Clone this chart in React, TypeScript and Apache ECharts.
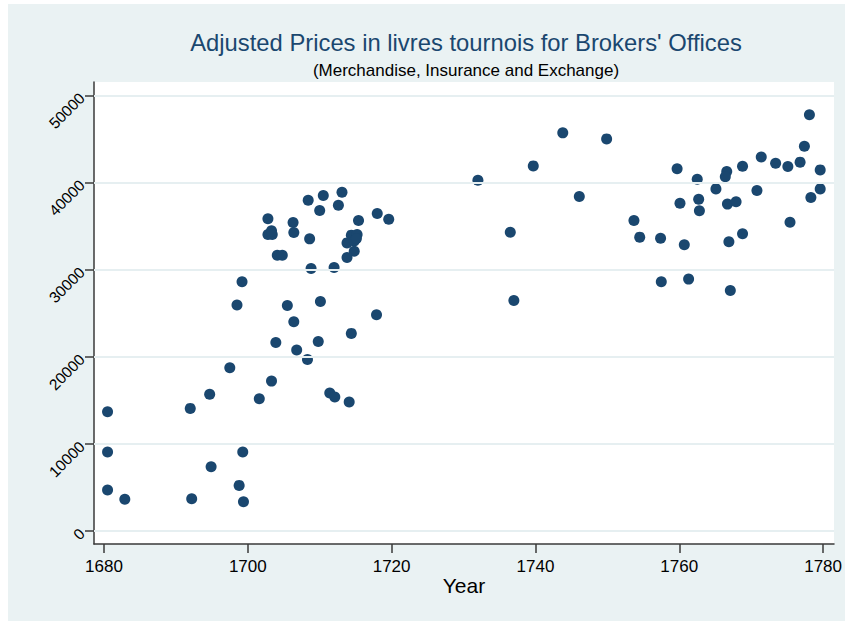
import React, { useEffect, useRef } from "react";
import * as echarts from "echarts";

const titleText = "Adjusted Prices in livres tournois for Brokers' Offices";
const subtitleText = "(Merchandise, Insurance and Exchange)";
const xAxisName = "Year";

const xTicks = [1680, 1700, 1720, 1740, 1760, 1780];
const yTicks = [0, 10000, 20000, 30000, 40000, 50000];

const years = [
  1680.5, 1680.5, 1680.5, 1682.9, 1692.0, 1692.2, 1694.7, 1694.9, 1697.5, 1698.5,
  1698.8, 1699.3, 1699.4, 1699.2, 1701.6, 1703.3, 1703.9, 1702.8, 1702.8, 1703.4,
  1703.3, 1704.1, 1704.8, 1706.3, 1706.4, 1708.4, 1710.5, 1713.1, 1710.0, 1712.6,
  1708.6, 1715.4, 1718.0, 1719.6, 1714.4, 1715.2, 1713.8, 1714.8, 1715.1, 1714.8,
  1713.8, 1708.8, 1712.0, 1705.5, 1710.1, 1706.4, 1717.9, 1714.4, 1706.8, 1709.8,
  1708.3, 1711.4, 1712.1, 1714.1,
  1732.0, 1739.7, 1743.8, 1749.9, 1746.1, 1736.5, 1737.0, 1753.7, 1754.5,
  1757.4, 1759.7, 1760.1, 1760.7, 1757.5, 1761.3, 1767.1, 1762.5, 1762.7, 1762.8,
  1765.1, 1766.6, 1766.4, 1766.7, 1767.9, 1766.9, 1768.8, 1768.8, 1770.8, 1771.4,
  1773.4, 1775.1, 1775.4, 1776.8, 1777.4, 1778.1, 1778.3, 1779.6, 1779.6,
];

const prices = [
  13700, 9070, 4700, 3640, 14080, 3710, 15690, 7380, 18740, 25940,
  5240, 9070, 3370, 28610, 15180, 17210, 21650, 35840, 34050, 34050,
  34460, 31670, 31670, 35430, 34280, 37980, 38520, 38900, 36800, 37410,
  33540, 35650, 36460, 35800, 33970, 34050, 33080, 33310, 33590, 32130,
  31410, 30150, 30260, 25900, 26360, 24020, 24820, 22690, 20770, 21770,
  19700, 15840, 15380, 14800,
  40280, 41920, 45710, 45020, 38410, 34310, 26470, 35650, 33740,
  33620, 41580, 37640, 32860, 28610, 28920, 27620, 40390, 38100, 36760,
  39280, 41280, 40660, 37530, 37790, 33200, 41890, 34120, 39100, 42950,
  42230, 41850, 35460, 42350, 44180, 47780, 38290, 41460, 39280,
];

const FONT = "'Liberation Sans', Arial, Helvetica, sans-serif";

export default function App() {
  const ref = useRef<HTMLDivElement>(null);

  useEffect(() => {
    if (!ref.current) return;
    const chart = echarts.init(ref.current, null, { renderer: "svg" });
    const axisLineStyle = { color: "#3a3a3a", width: 1.5 };
    chart.setOption({
      animation: false,
      backgroundColor: "#eaf2f3",
      textStyle: { fontFamily: FONT },
      title: [
        {
          text: titleText,
          left: 453,
          top: 21,
          textAlign: "center",
          textStyle: { fontSize: 23.8, fontWeight: "normal", color: "#1a476f", fontFamily: FONT },
        },
        {
          text: subtitleText,
          left: 453,
          top: 53,
          textAlign: "center",
          textStyle: { fontSize: 17, fontWeight: "normal", color: "#000", fontFamily: FONT },
        },
      ],
      grid: {
        show: true,
        left: 86,
        top: 78,
        width: 743,
        height: 462,
        backgroundColor: "#ffffff",
        borderWidth: 0,
      },
      xAxis: {
        type: "value",
        min: 1678.615,
        max: 1781.52,
        axisLine: { show: true, onZero: false, lineStyle: axisLineStyle },
        axisTick: { show: true, length: 9, customValues: xTicks, lineStyle: axisLineStyle },
        axisLabel: {
          customValues: xTicks,
          fontSize: 17,
          color: "#000",
          margin: 14,
          fontFamily: FONT,
          formatter: (v: number) => String(Math.round(v)),
        },
        splitLine: { show: false },
        name: xAxisName,
        nameLocation: "middle",
        nameGap: 31,
        nameMoveOverlap: false,
        nameTextStyle: { fontSize: 21, color: "#000", fontFamily: FONT },
      },
      yAxis: {
        type: "value",
        min: -1490,
        max: 51550,
        axisLine: { show: true, onZero: false, lineStyle: axisLineStyle },
        axisTick: { show: true, length: 9, customValues: yTicks, lineStyle: axisLineStyle },
        axisLabel: {
          customValues: yTicks,
          rotate: 45,
          fontSize: 15.5,
          color: "#000",
          margin: 12,
          fontFamily: FONT,
          formatter: (v: number) => String(Math.round(v)),
        },
        splitLine: { show: false },
      },
      series: [
        {
          type: "scatter",
          data: [],
          silent: true,
          z: 1,
          markLine: {
            silent: true,
            symbol: "none",
            label: { show: false },
            lineStyle: { color: "#e6eff1", width: 2, type: "solid" },
            emphasis: { disabled: true },
            data: yTicks.map((v) => ({ yAxis: v })),
          },
        },
        {
          type: "scatter",
          z: 3,
          symbol: "circle",
          symbolSize: 11,
          itemStyle: { color: "#1a476f", opacity: 1 },
          data: years.map((y, i) => [y, prices[i]]),
        },
      ],
    });
    return () => chart.dispose();
  }, []);

  return (
    <div style={{ position: "fixed", left: 0, top: 0, width: 847, height: 621, background: "#ffffff" }}>
      <div ref={ref} style={{ position: "absolute", left: 8, top: 4, width: 837, height: 617 }} />
    </div>
  );
}
